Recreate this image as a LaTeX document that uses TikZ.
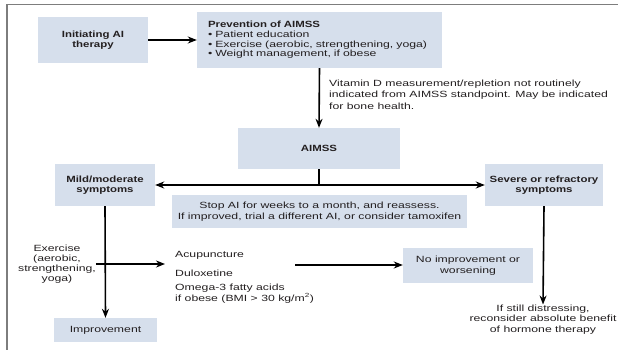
\documentclass[tikz,border=0pt]{standalone}
\usepackage{fontspec}
\setmainfont{Liberation Sans}[FakeStretch=1.36]
\newfontfamily\headfont{Liberation Sans}[FakeStretch=1.27]
\usetikzlibrary{arrows.meta,positioning}
\definecolor{boxblue}{RGB}{214,223,236}
\definecolor{framegray}{RGB}{125,125,125}
\definecolor{inkgray}{RGB}{35,31,32}
\tikzset{
  flowbox/.style={fill=boxblue, inner sep=0pt, align=center, text=inkgray,
    font=\fontsize{9}{10.5}\selectfont},
  headbox/.style={flowbox, font=\fontsize{9}{10.5}\selectfont\headfont\bfseries},
  plaintext/.style={inner sep=0pt, text=inkgray, font=\fontsize{9}{10.5}\selectfont},
  flowline/.style={line width=1.6pt, draw=black},
  flowarrow/.style={flowline, -{Stealth[length=9pt,width=7pt]}},
}
\begin{document}
\begin{tikzpicture}[x=1pt,y=-1pt]
\useasboundingbox (0,0) rectangle (618,350);
% frame
\draw[framegray, line width=1.5pt] (7,350) -- (7,4.5) -- (618,4.5);

% top row
\node[headbox, minimum width=110pt, minimum height=46pt] (init) at (93,40) {Initiating AI\\therapy};
\node[flowbox, minimum height=56pt, text width=223pt, inner xsep=11pt, align=left,
  font=\fontsize{9}{9.6}\selectfont] (prev) at (319.5,40)
  {{\headfont\bfseries Prevention of AIMSS}\\
   \textbullet\ Patient education\\
   \textbullet\ Exercise (aerobic, strengthening, yoga)\\
   \textbullet\ Weight management, if obese};
\node[plaintext, anchor=west, align=left, font=\fontsize{9}{11.5}\selectfont] (vitd) at (329,94.5)
  {Vitamin D measurement/repletion not routinely\\
   indicated from AIMSS standpoint. May be indicated\\
   for bone health.};

% middle
\node[headbox, minimum width=162pt, minimum height=41pt] (aimss) at (319,148.5) {AIMSS};
\node[headbox, minimum width=100pt, minimum height=42pt] (mild) at (105,185) {Mild/moderate\\symptoms};
\node[headbox, minimum width=118pt, minimum height=42pt] (severe) at (544,185) {Severe or refractory\\symptoms};
\node[flowbox, minimum width=295pt, minimum height=33pt] (stop) at (319.5,211.5)
  {Stop AI for weeks to a month, and reassess.\\
   If improved, trial a different AI, or consider tamoxifen};

% lower part
\node[plaintext, align=center, font=\fontsize{9}{10}\selectfont] (exer) at (57,264)
  {Exercise\\(aerobic,\\strengthening,\\yoga)};
\node[plaintext, anchor=west] (acu) at (175,255) {Acupuncture};
\node[plaintext, anchor=west] (dulox) at (175,273) {Duloxetine};
\node[plaintext, anchor=west, align=left, font=\fontsize{9}{11}\selectfont] (omega) at (175,293.5)
  {Omega-3 fatty acids\\if obese (BMI > 30 kg/m\textsuperscript{2})};
\coordinate (treat) at (295,265);
\node[flowbox, minimum width=130pt, minimum height=35pt] (noimp) at (468,265.5) {No improvement or\\worsening};
\node[flowbox, minimum width=103pt, minimum height=24pt] (improve) at (105.5,330) {Improvement};
\node[plaintext, align=center, anchor=north] (distress) at (543,304.5)
  {If still distressing,\\reconsider absolute benefit\\of hormone therapy};

% connectors
\draw[flowarrow] (init.east) -- (prev.west);
\draw[flowarrow] (prev.south) -- (aimss.north);
\draw[flowline] (aimss.south) -- (aimss.south |- mild.east);
\draw[flowline, {Stealth[length=9pt,width=7pt]}-{Stealth[length=9pt,width=7pt]}] (mild.east) -- (severe.west);
\draw[flowarrow] (mild.south) -- (improve.north);
\draw[flowarrow, shorten >=10pt] (exer.east) -- (exer.east -| acu.west);
\draw[flowarrow] (treat) -- (treat -| noimp.west);
\draw[flowarrow] (severe.south) -- (distress.north);
\end{tikzpicture}
\end{document}
